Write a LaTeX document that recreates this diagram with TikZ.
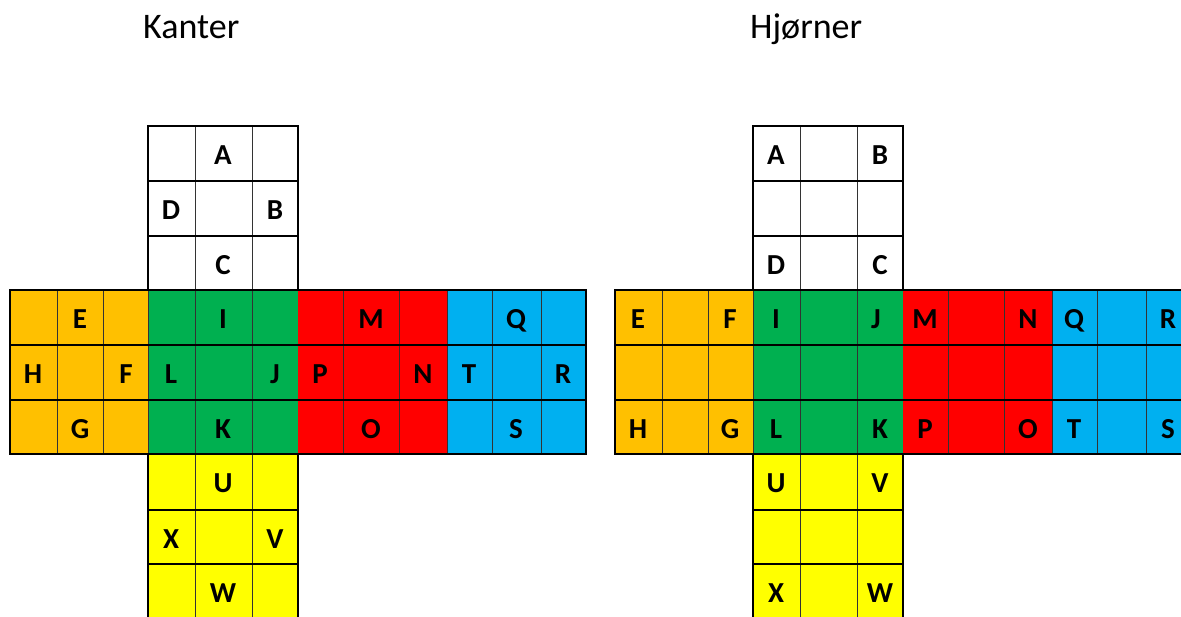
\documentclass[tikz,border=0pt]{standalone}
\usepackage{fontspec}
\setmainfont{Carlito}
\usepackage{xcolor}
\definecolor{faceorange}{HTML}{FFC000}
\definecolor{facegreen}{HTML}{00B050}
\definecolor{facered}{HTML}{FF0000}
\definecolor{faceblue}{HTML}{00B0F0}
\definecolor{faceyellow}{HTML}{FFFF00}

\begin{document}
\begin{tikzpicture}[
  x=1pt, y=-1pt,
  title/.style={font=\fontsize{36}{40}\selectfont, anchor=base west, inner sep=0pt},
  lbl/.style={font=\fontsize{29}{32}\selectfont\bfseries, anchor=base, inner sep=0pt},
  cellline/.style={line width=1pt, draw=black!80},
  rowline/.style={line width=2.2pt, draw=black},
  outline/.style={line width=2.2pt, draw=black, line join=miter}
]
\useasboundingbox (0,0) rectangle (1181,616);
\clip (0,0) rectangle (1181,616);

% titles
\node[title] (ttlK) at (143,38) {Kanter};
\node[title] (ttlH) at (750,38) {Hjørner};

% both nets, same grid
\foreach \dx in {0,605} {
  \begin{scope}[xshift=\dx pt]
    % faces
    \fill[white] (148,126) rectangle (298,290);
    \fill[faceorange] (10,290) rectangle (148,454);
    \fill[facegreen] (148,290) rectangle (298,454);
    \fill[facered] (298,290) rectangle (447,454);
    \fill[faceblue] (447,290) rectangle (586,454);
    \fill[faceyellow] (148,454) rectangle (298,619);
    % thin column lines
    \foreach \x in {195,252}
      \draw[cellline] (\x,126) -- (\x,619);
    \foreach \x in {57,103,148,343,399,447,492,541}
      \draw[cellline] (\x,290) -- (\x,454);
    % row lines
    \foreach \y in {181,236,510,564}
      \draw[rowline] (148,\y) -- (298,\y);
    \foreach \y in {345,400}
      \draw[rowline] (10,\y) -- (586,\y);
    % outer edge of the net
    \draw[outline] (148,126) -- (298,126) -- (298,290) -- (586,290) -- (586,454)
      -- (298,454) -- (298,619) -- (148,619) -- (148,454) -- (10,454)
      -- (10,290) -- (148,290) -- cycle;
    \draw[rowline] (148,290) -- (298,290);
    \draw[rowline] (148,454) -- (298,454);
    \draw[rowline] (148,126) -- (148,290) (148,454) -- (148,619);
  \end{scope}
}

% Kanter labels
\node[lbl] (kA) at (223,164) {A};
\node[lbl] (kD) at (171,219) {D};
\node[lbl] (kB) at (275,219) {B};
\node[lbl] (kC) at (223,274) {C};
\node[lbl] (kE) at (80,328) {E};
\node[lbl] (kI) at (223,328) {I};
\node[lbl] (kM) at (371,328) {M};
\node[lbl] (kQ) at (516,328) {Q};
\node[lbl] (kH) at (33,383) {H};
\node[lbl] (kF) at (126,383) {F};
\node[lbl] (kL) at (171,383) {L};
\node[lbl] (kJ) at (275,383) {J};
\node[lbl] (kP) at (320,383) {P};
\node[lbl] (kN) at (423,383) {N};
\node[lbl] (kT) at (469,383) {T};
\node[lbl] (kR) at (563,383) {R};
\node[lbl] (kG) at (80,438) {G};
\node[lbl] (kK) at (223,438) {K};
\node[lbl] (kO) at (371,438) {O};
\node[lbl] (kS) at (516,438) {S};
\node[lbl] (kU) at (223,492) {U};
\node[lbl] (kX) at (171,548) {X};
\node[lbl] (kV) at (275,548) {V};
\node[lbl] (kW) at (223,602) {W};

% Hjoerner labels
\node[lbl] (hA) at (776,164) {A};
\node[lbl] (hB) at (880,164) {B};
\node[lbl] (hD) at (776,274) {D};
\node[lbl] (hC) at (880,274) {C};
\node[lbl] (hE) at (638,328) {E};
\node[lbl] (hF) at (730,328) {F};
\node[lbl] (hI) at (776,328) {I};
\node[lbl] (hJ) at (876,328) {J};
\node[lbl] (hM) at (925,328) {M};
\node[lbl] (hN) at (1028,328) {N};
\node[lbl] (hQ) at (1074,328) {Q};
\node[lbl] (hR) at (1168,328) {R};
\node[lbl] (hH) at (638,438) {H};
\node[lbl] (hG) at (730,438) {G};
\node[lbl] (hL) at (776,438) {L};
\node[lbl] (hK) at (880,438) {K};
\node[lbl] (hP) at (925,438) {P};
\node[lbl] (hO) at (1028,438) {O};
\node[lbl] (hT) at (1074,438) {T};
\node[lbl] (hS) at (1168,438) {S};
\node[lbl] (hU) at (776,492) {U};
\node[lbl] (hV) at (880,492) {V};
\node[lbl] (hX) at (776,602) {X};
\node[lbl] (hW) at (880,602) {W};

\end{tikzpicture}
\end{document}
